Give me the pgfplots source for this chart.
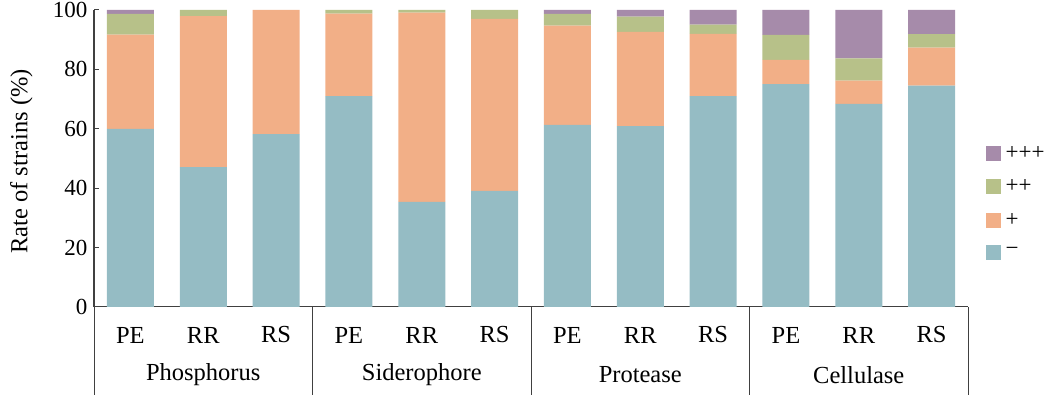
\documentclass[border=0pt]{standalone}
\usepackage{fontspec}
\setmainfont{Liberation Serif}
\usepackage{pgfplots}
\usepackage{pgfplotstable}
\pgfplotsset{compat=1.18}
\definecolor{cminus}{HTML}{95BCC4}
\definecolor{cplus}{HTML}{F2AF87}
\definecolor{cpp}{HTML}{B7C189}
\definecolor{cppp}{HTML}{A68BAA}
\pgfplotstableread{
x   m     p     pp    ppp
0   60.0  31.7  7.0   1.3
1   47.1  50.8  2.1   0.0
2   58.2  41.8  0.0   0.0
3   71.0  27.8  1.2   0.0
4   35.4  63.7  0.9   0.0
5   39.1  57.9  3.0   0.0
6   61.3  33.4  4.0   1.3
7   60.9  31.7  5.2   2.2
8   71.0  21.0  3.1   4.9
9   75.0  8.2   8.4   8.4
10  68.4  7.8   7.5   16.3
11  74.5  12.8  4.6   8.1
}\datatable
\begin{document}
\begin{tikzpicture}[font=\fontsize{24.5}{29}\selectfont]
\path[use as bounding box] (0pt,0pt) rectangle (1049pt,395pt);
\begin{axis}[
  at={(94pt,88pt)}, anchor=south west,
  scale only axis, width=874pt, height=297pt,
  ybar stacked, bar width=47pt,
  xmin=-0.5, xmax=11.5, ymin=0, ymax=100,
  ytick={0,20,40,60,80,100},
  xtick=\empty,
  axis x line=bottom, axis y line=left,
  axis line style={-, line width=1pt, draw=black!75},
  y axis line style={line width=1.2pt},
  ytick style={line width=1pt, draw=black!75},
  tick align=inside, major tick length=5pt,
  /pgf/number format/assume math mode=true,
  yticklabel style={font=\fontsize{23}{27}\selectfont, xshift=-3pt},
  ylabel={Rate of strains (\%)},
  ylabel style={at={(axis description cs:-0.083,0.49)}, anchor=center, font=\fontsize{24.5}{29}\selectfont},
  clip=false,
  legend cell align=left,
  reverse legend,
  legend style={draw=none, fill=none, at={(axis description cs:1.02,0.354)}, anchor=west,
    font=\fontsize{23}{27}\selectfont, row sep=15pt, inner sep=0pt, nodes={inner xsep=5pt}},
  legend image code/.code={\fill[#1] (0pt,-7.5pt) rectangle (15pt,7.5pt);},
]
\addplot[fill=cminus, draw=none] table[x=x, y=m] {\datatable};
\addlegendentry{−}
\addplot[fill=cplus, draw=none] table[x=x, y=p] {\datatable};
\addlegendentry{+}
\addplot[fill=cpp, draw=none] table[x=x, y=pp] {\datatable};
\addlegendentry{++}
\addplot[fill=cppp, draw=none] table[x=x, y=ppp] {\datatable};
\addlegendentry{+++}
\pgfplotsinvokeforeach{-0.5,2.5,5.5,8.5,11.5}{
  \draw[line width=1pt, black!75] (axis cs:#1,0) -- ++(0pt,-88pt);
}
\pgfplotsinvokeforeach{0,3,6,9}{
  \node[anchor=center] at ([yshift=-28pt]axis cs:#1,0) {PE};
}
\pgfplotsinvokeforeach{1,4,7,10}{
  \node[anchor=center] at ([yshift=-28pt]axis cs:#1,0) {RR};
}
\pgfplotsinvokeforeach{2,5,8,11}{
  \node[anchor=center] at ([yshift=-28pt]axis cs:#1,0) {RS};
}
\node[anchor=center] at ([yshift=-68pt]axis cs:1,0) {Phosphorus};
\node[anchor=center] at ([yshift=-68pt]axis cs:4,0) {Siderophore};
\node[anchor=center] at ([yshift=-68pt]axis cs:7,0) {Protease};
\node[anchor=center] at ([yshift=-68pt]axis cs:10,0) {Cellulase};
\end{axis}
\end{tikzpicture}
\end{document}
